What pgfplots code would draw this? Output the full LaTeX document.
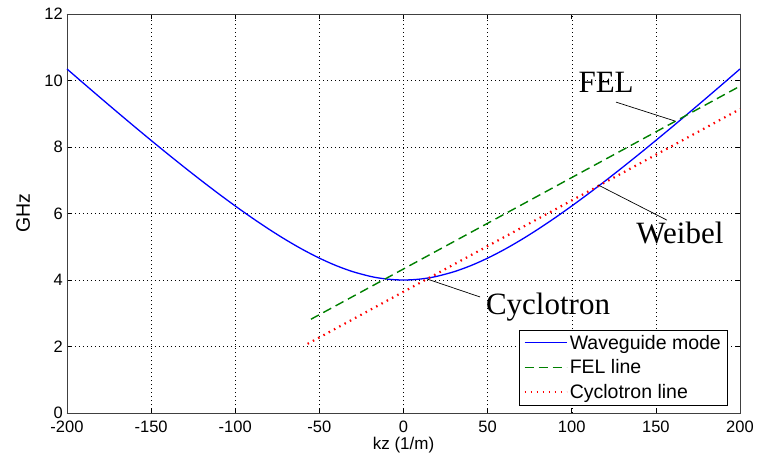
\documentclass[border=0pt]{standalone}
\usepackage{fontspec}
\setmainfont{Liberation Sans}
\newfontfamily\timesfont{Liberation Serif}
\usepackage{pgfplots}
\pgfplotsset{compat=1.18}
\definecolor{mgreen}{rgb}{0,0.5,0}
\begin{document}
\begin{tikzpicture}
\begin{axis}[
  width=673bp, height=399bp, scale only axis,
  xmin=-200, xmax=200, ymin=0, ymax=12,
  xtick={-200,-150,...,200}, ytick={0,2,...,12},
  /pgf/number format/assume math mode=true,
  tick label style={font=\fontsize{16.5bp}{19bp}\selectfont},
  xticklabel style={anchor=north, inner sep=0pt, yshift=-8bp},
  yticklabel style={anchor=east, inner sep=0pt, xshift=-4bp},
  xlabel={kz (1/m)}, ylabel={GHz},
  xlabel style={font=\fontsize{17bp}{20bp}\selectfont, at={(axis description cs:0.5,-0.0802)}, anchor=center},
  ylabel style={font=\fontsize{19.5bp}{22bp}\selectfont, at={(axis description cs:-0.065,0.5)}, anchor=center},
  grid=major,
  major grid style={black, line width=0.5bp, dash pattern=on 1bp off 3bp},
  tick align=inside, tick pos=both,
  major tick length=5bp,
  every tick/.style={black, line width=0.6bp},
  axis line style={black!75, line width=0.8bp},
  clip=false,
  legend cell align=left,
  legend style={at={(0.9807,0.020)}, anchor=south east, draw=black, fill=white,
    font=\fontsize{19.5bp}{22bp}\selectfont, inner xsep=4bp, inner ysep=3bp,
    row sep=5bp},
]
\addlegendimage{legend image code/.code={\draw[color=blue, line width=1.3bp] (0bp,0bp) -- (42bp,0bp);}}
\addlegendentry{Waveguide mode}
\addlegendimage{legend image code/.code={\draw[color=mgreen, line width=1.4bp, dash pattern=on 9bp off 5bp] (0bp,0bp) -- (42bp,0bp);}}
\addlegendentry{FEL line}
\addlegendimage{legend image code/.code={\draw[color=red, line width=2.2bp, dash pattern=on 1.5bp off 4.5bp] (0bp,0bp) -- (42bp,0bp);}}
\addlegendentry{Cyclotron line}
\addplot[forget plot, color=blue, line width=1.3bp, smooth] coordinates {
(-200,10.3465) (-190,9.9082) (-180,9.4737) (-170,9.0434) (-160,8.6181)
(-150,8.1985) (-140,7.7855) (-130,7.3803) (-120,6.9841) (-110,6.5987)
(-100,6.2260) (-90,5.8683) (-80,5.5289) (-70,5.2109) (-60,4.9188)
(-50,4.6573) (-40,4.4319) (-30,4.2484) (-20,4.1122) (-15,4.0635) (-10,4.0284) (-5,4.0071)
(0,4.0000) (5,4.0071) (10,4.0284) (15,4.0635) (20,4.1122) (30,4.2484) (40,4.4319)
(50,4.6573) (60,4.9188) (70,5.2109) (80,5.5289) (90,5.8683) (100,6.2260)
(110,6.5987) (120,6.9841) (130,7.3803) (140,7.7855) (150,8.1985)
(160,8.6181) (170,9.0434) (180,9.4737) (190,9.9082) (200,10.3465)};
\addplot[forget plot, color=mgreen, line width=1.4bp, dash pattern=on 9bp off 5bp] coordinates {
(-55,2.82) (200,9.83)};
\addplot[forget plot, color=red, line width=2.2bp, dash pattern=on 1.5bp off 4.5bp] coordinates {
(-57,2.08) (200,9.14)};
\draw[black, line width=0.7bp] (axis cs:126.3,9.35) -- (axis cs:161.4,8.78);
\draw[black, line width=0.7bp] (axis cs:115.6,6.86) -- (axis cs:156.6,5.80);
\draw[black, line width=0.7bp] (axis cs:14,4.03) -- (axis cs:45.5,3.49);
\node[font=\timesfont\fontsize{31bp}{35bp}\selectfont] at (axis cs:120.4,9.95) {FEL};
\node[font=\timesfont\fontsize{31bp}{35bp}\selectfont] at (axis cs:164.3,5.41) {Weibel};
\node[font=\timesfont\fontsize{31bp}{35bp}\selectfont] at (axis cs:85.9,3.19) {Cyclotron};
\path (axis cs:-239.82,12.421) rectangle (axis cs:211.29,-1.564);
\end{axis}
\end{tikzpicture}
\end{document}
